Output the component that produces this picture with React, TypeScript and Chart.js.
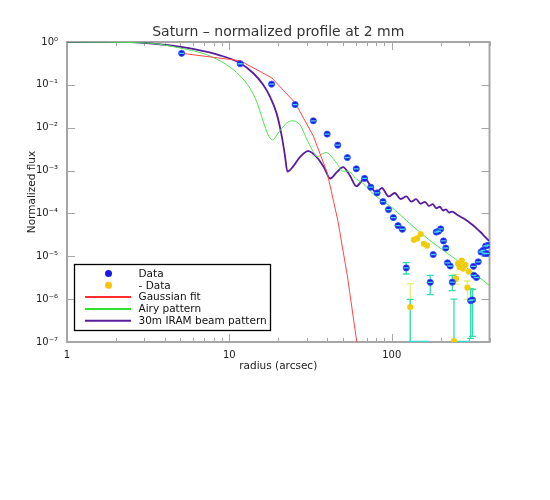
import { useEffect, useRef } from "react";
import { Chart, registerables } from "chart.js";

Chart.register(...registerables);

const FONT = "DejaVu Sans";
const TITLE = "Saturn – normalized profile at 2 mm";
const X_TITLE = "radius (arcsec)";
const Y_TITLE = "Normalized flux";

const X_TICKS = [1, 2, 3, 4, 5, 6, 7, 8, 9, 10, 20, 30, 40, 50, 60, 70, 80, 90, 100, 200, 300, 400];
const X_LABELED = [1, 10, 100];
const Y_TICKS = [1e-7, 1e-6, 1e-5, 1e-4, 1e-3, 1e-2, 1e-1, 1];

// Data (positive)
const dataX = [5.08, 11.66, 18.2, 25.4, 32.9, 40.0, 46.5, 53.3, 60.5, 68.0, 74.3, 81.2, 88.4, 95.5, 102.3, 109.3, 116.2,
  122.8, 172.6, 180, 187.9, 194.1, 200.3, 208.3, 215.3, 220.4, 229, 236, 306.3, 314.2, 318.6, 321, 332.5, 341, 354.6,
  364.5, 373.6, 378.8, 384.6, 392.6];
const dataY = [0.545, 0.311, 0.104, 0.0347, 0.0145, 0.00709, 0.00392, 0.00202, 0.0011, 6.57e-4, 4.09e-4, 3.01e-4, 1.88e-4,
  1.23e-4, 8.0e-5, 5.2e-5, 4.27e-5, 5.36e-6, 2.47e-6, 1.1e-5, 3.67e-5, 3.84e-5, 4.34e-5, 2.28e-5, 1.56e-5, 7.05e-6,
  5.93e-6, 2.49e-6, 9.2e-7, 9.6e-7, 5.84e-6, 3.6e-6, 3.2e-6, 7.44e-6, 1.26e-5, 1.38e-5, 1.16e-5, 1.74e-5, 1.16e-5, 1.81e-5];

// Data (negative, absolute value)
const negX = [130, 137, 143.1, 150.8, 157.8, 164.9, 241.7, 248.8, 255.9, 262, 269.8, 274.7, 284.1, 292.4, 297.8];
const negY = [6.53e-7, 2.43e-5, 2.61e-5, 3.27e-5, 1.96e-5, 1.78e-5, 1.05e-7, 3.01e-6, 6.75e-6, 5.62e-6, 7.94e-6, 5.16e-6,
  6.27e-6, 1.86e-6, 4.39e-6];

// Error bars
const errDataX = [122.8, 172.6, 236, 306.3, 314.2, 130, 241.7];
const errDataLo = [3.86e-6, 1.27e-6, 1.58e-6, 1.21e-7, 1.35e-7, 1e-8, 1e-8];
const errDataHi = [7.13e-6, 3.6e-6, 3.56e-6, 1.76e-6, 1.7e-6, 9.9e-7, 1.0e-6];
const errNegX = [130, 248.8, 292.4];
const errNegLo = [1e-8, 2.22e-6, 9.7e-7];
const errNegHi = [2.3e-6, 3.8e-6, 2.65e-6];

// Clipped error bars lying along the lower axis
const floorAX = [127, 171];
const floorBX = [236, 305];
const floorY = [1e-7, 1e-7];

// Gaussian fit
const gaussX = [5.08, 11.66, 18.2, 25.4, 32.9, 40.0, 46.5, 53.3, 60.5, 68.0];
const gaussY = [0.545, 0.366, 0.1466, 0.0382, 0.00637, 9e-4, 7e-5, 3.5e-6, 1.2e-7, 3e-9];

// Airy pattern
const airyX = [1, 3.09, 4.96, 7.24, 9.61, 11.6, 13.37, 14.71, 16.14, 17.33, 18.44, 19.96, 22.49, 24.42, 27.16, 30.5, 32.8,
  34.8, 37.1, 39.6, 43.5, 46.5, 49.6, 54.0, 60.6, 66.3, 76.7, 101.9, 129.1, 171.4, 247.7, 397];
const airyY = [1.0, 0.948, 0.724, 0.505, 0.295, 0.165, 0.0842, 0.0411, 0.01426, 0.00682, 0.00521, 0.00748, 0.0128, 0.01449,
  0.0118, 0.00469, 0.00277, 0.00209, 0.00242, 0.00265, 0.00192, 0.00137, 9.68e-4, 9.68e-4, 6.3e-4, 5.08e-4, 2.88e-4,
  1.3e-4, 5.81e-5, 2.36e-5, 8.51e-6, 2.13e-6];

// 30m IRAM beam pattern
const beamX = [1, 2.44, 3.91, 6.28, 8.74, 11.6, 14.0, 16.15, 17.75, 19.52, 20.95, 21.96, 22.8, 24.7, 27.2, 30.5, 34.4, 38.2,
  41.8, 45.9, 50.1, 55.1, 60.6, 68.2, 74.3, 80.5, 86.8, 95.8, 104.3, 113.6, 123.0, 132.0, 141.3, 150.6, 160.3, 169.4,
  178.6, 188.2, 197.7, 206.9, 215.9, 225.5, 235.0, 253, 272, 291, 310.8, 332, 353, 373, 397];
const beamY = [1.0, 0.995, 0.865, 0.661, 0.489, 0.323, 0.189, 0.1005, 0.0539, 0.0219, 0.00682, 0.00233, 9.42e-4, 0.00125,
  0.00206, 0.00284, 0.00209, 0.0012, 6.53e-4, 9.2e-4, 0.0012, 7.8e-4, 4.32e-4, 6.53e-4, 4.32e-4, 3.05e-4, 3.92e-4,
  2.49e-4, 3.0e-4, 2.17e-4, 2.5e-4, 1.88e-4, 2.15e-4, 1.68e-4, 1.87e-4, 1.49e-4, 1.64e-4, 1.32e-4, 1.43e-4, 1.17e-4,
  1.25e-4, 1.05e-4, 1.1e-4, 9.33e-5, 7.94e-5, 6.75e-5, 5.6e-5, 4.51e-5, 3.64e-5, 2.93e-5, 2.3e-5];

const LEGEND_LABELS = ["Data", "- Data", "Gaussian fit", "Airy pattern", "30m IRAM beam pattern"];

const C_BLUE = "#1a1ae8";
const C_CYAN = "#40d8f0";
const C_YELLOW = "#f0cd0a";
const C_RED = "#ff4646";
const C_GREEN = "#4fe34f";
const C_PURPLE = "#5a1c9e";
const C_ERR = "#2fe0aa";
const C_ERR_Y = "#e4f070";
const C_AXIS = "#a6a6a6";

const SUP: Record<string, string> = { "0": "⁰", "1": "¹", "2": "²", "3": "³", "4": "⁴", "5": "⁵", "6": "⁶", "7": "⁷", "8": "⁸", "9": "⁹", "-": "⁻" };

const pts = (xs: number[], ys: number[]) => xs.map((x, i) => ({ x, y: ys[i] }));

const framePlugin = {
  id: "frameTicks",
  beforeDatasetsDraw(chart: any) {
    const { ctx, chartArea: a, scales } = chart;
    const xs = scales.x;
    const ys = scales.y;
    ctx.save();
    ctx.strokeStyle = C_AXIS;
    ctx.lineWidth = 1;
    ctx.beginPath();
    for (const t of X_TICKS) {
      const p = Math.round(xs.getPixelForValue(t)) + 0.5;
      const lg = Math.log10(t);
      const major = Math.abs(lg - Math.round(lg)) < 1e-9;
      const len = major ? 8 : 4;
      ctx.moveTo(p, a.bottom);
      ctx.lineTo(p, a.bottom - len);
      ctx.moveTo(p, a.top);
      ctx.lineTo(p, a.top + len);
    }
    for (const t of Y_TICKS) {
      const p = Math.round(ys.getPixelForValue(t)) + 0.5;
      ctx.moveTo(a.left, p);
      ctx.lineTo(a.left + 8, p);
      ctx.moveTo(a.right, p);
      ctx.lineTo(a.right - 8, p);
    }
    ctx.stroke();
    ctx.lineWidth = 2;
    ctx.strokeRect(a.left, a.top, a.right - a.left, a.bottom - a.top);

    // error bars
    ctx.beginPath();
    ctx.rect(a.left, a.top, a.right - a.left, a.bottom - a.top);
    ctx.clip();
    const drawErr = (X: number[], lo: number[], hi: number[], color: string) => {
      ctx.strokeStyle = color;
      ctx.lineWidth = 1.3;
      ctx.beginPath();
      X.forEach((x, i) => {
        const px = xs.getPixelForValue(x);
        const p1 = ys.getPixelForValue(lo[i]);
        const p2 = ys.getPixelForValue(hi[i]);
        ctx.moveTo(px, p1);
        ctx.lineTo(px, p2);
        ctx.moveTo(px - 3.5, p1);
        ctx.lineTo(px + 3.5, p1);
        ctx.moveTo(px - 3.5, p2);
        ctx.lineTo(px + 3.5, p2);
      });
      ctx.stroke();
    };
    drawErr(errNegX, errNegLo, errNegHi, C_ERR_Y);
    drawErr(errDataX, errDataLo, errDataHi, C_ERR);
    ctx.restore();
  },
};

const overlayPlugin = {
  id: "titleLegend",
  afterDraw(chart: any) {
    const { ctx, chartArea: a } = chart;
    ctx.save();
    // title
    ctx.font = `14px "${FONT}"`;
    ctx.fillStyle = "#333";
    ctx.textAlign = "center";
    ctx.textBaseline = "middle";
    ctx.fillText(TITLE, (a.left + a.right) / 2, 32);

    // legend
    ctx.strokeStyle = "#000";
    ctx.lineWidth = 1.3;
    ctx.strokeRect(74.5, 264.5, 196, 66);
    const markers = [
      { kind: "dot", color: C_BLUE },
      { kind: "dot", color: "#ffc20a" },
      { kind: "line", color: "#ff2e2e" },
      { kind: "line", color: "#2fe02f" },
      { kind: "line", color: C_PURPLE },
    ];
    ctx.font = `10.5px "${FONT}"`;
    ctx.textAlign = "left";
    LEGEND_LABELS.forEach((label, i) => {
      const y = 273.5 + i * 11.8;
      const m = markers[i];
      if (m.kind === "dot") {
        ctx.fillStyle = m.color;
        ctx.beginPath();
        ctx.arc(108.5, y, 3.5, 0, Math.PI * 2);
        ctx.fill();
      } else {
        ctx.strokeStyle = m.color;
        ctx.lineWidth = 2;
        ctx.beginPath();
        ctx.moveTo(85, y);
        ctx.lineTo(131, y);
        ctx.stroke();
      }
      ctx.fillStyle = "#111";
      ctx.fillText(label, 138.5, y + 0.5);
    });
    ctx.restore();
  },
};

export default function App() {
  const ref = useRef<HTMLCanvasElement>(null);
  useEffect(() => {
    const canvas = ref.current;
    if (!canvas) return;
    const lineDs = (label: string, xs: number[], ys: number[], color: string, width: number, smooth: boolean) => ({
      label,
      data: pts(xs, ys),
      showLine: true,
      pointRadius: 0,
      borderColor: color,
      backgroundColor: color,
      borderWidth: width,
      cubicInterpolationMode: smooth ? "monotone" : "default",
      tension: 0,
    });
    const chart = new Chart(canvas, {
      type: "scatter",
      data: {
        datasets: [
          {
            label: "Data bar",
            data: pts(dataX, dataY),
            pointStyle: "line",
            pointRadius: 2.4,
            borderColor: C_CYAN,
            backgroundColor: C_CYAN,
            borderWidth: 1.3,
          },
          {
            label: "Data",
            data: pts(dataX, dataY),
            pointRadius: 3.1,
            backgroundColor: C_BLUE,
            borderColor: "#2f5cff",
            borderWidth: 0.8,
          },
          {
            label: "- Data",
            data: pts(negX, negY),
            pointRadius: 3.1,
            backgroundColor: C_YELLOW,
            borderColor: C_YELLOW,
            borderWidth: 0,
          },
          lineDs("floor A", floorAX, floorY, "#36d8d0", 2.5, false),
          lineDs("floor B", floorBX, floorY, "#36d8d0", 2.5, false),
          lineDs("Gaussian fit", gaussX, gaussY, C_RED, 1, false),
          lineDs("Airy pattern", airyX, airyY, C_GREEN, 1, true),
          lineDs("30m IRAM beam pattern", beamX, beamY, C_PURPLE, 1.8, true),
        ] as any,
      },
      options: {
        responsive: false,
        animation: false,
        events: [],
        layout: { padding: { left: 0, right: 60.5, top: 42, bottom: 0 } },
        plugins: {
          legend: { display: false },
          tooltip: { enabled: false },
          title: { display: false },
        },
        scales: {
          x: {
            type: "logarithmic",
            position: "bottom",
            min: 1,
            max: 400,
            afterBuildTicks: (s: any) => {
              s.ticks = X_TICKS.map((v) => ({ value: v }));
            },
            afterFit: (s: any) => {
              s.height = 158;
            },
            grid: { display: false, drawTicks: false, tickLength: 0 },
            border: { display: false },
            ticks: {
              autoSkip: false,
              maxRotation: 0,
              padding: 7,
              color: "#222",
              font: { size: 10, family: FONT },
              callback: (v: any) => (X_LABELED.includes(Number(v)) ? String(v) : ""),
            },
            title: {
              display: true,
              text: X_TITLE,
              color: "#222",
              font: { size: 10.5, family: FONT },
              padding: { top: 0, bottom: 127 },
            },
          },
          y: {
            type: "logarithmic",
            position: "left",
            min: 1e-7,
            max: 1,
            afterBuildTicks: (s: any) => {
              s.ticks = Y_TICKS.map((v) => ({ value: v }));
            },
            afterFit: (s: any) => {
              s.width = 67;
            },
            grid: { display: false, drawTicks: false, tickLength: 0 },
            border: { display: false },
            ticks: {
              autoSkip: false,
              padding: 9,
              color: "#222",
              font: { size: 10, family: FONT },
              callback: (v: any) => {
                const e = String(Math.round(Math.log10(Number(v))));
                return "10" + e.split("").map((c) => SUP[c] || c).join("");
              },
            },
            title: {
              display: true,
              text: Y_TITLE,
              color: "#222",
              font: { size: 10.5, family: FONT },
              padding: { top: 26, bottom: 0 },
            },
          },
        },
      },
      plugins: [framePlugin, overlayPlugin],
    } as any);
    return () => chart.destroy();
  }, []);

  return (
    <div style={{ position: "absolute", left: 0, top: 0, width: 550, height: 500, background: "#fff" }}>
      <canvas ref={ref} width={550} height={500} style={{ display: "block", width: 550, height: 500 }} />
    </div>
  );
}
